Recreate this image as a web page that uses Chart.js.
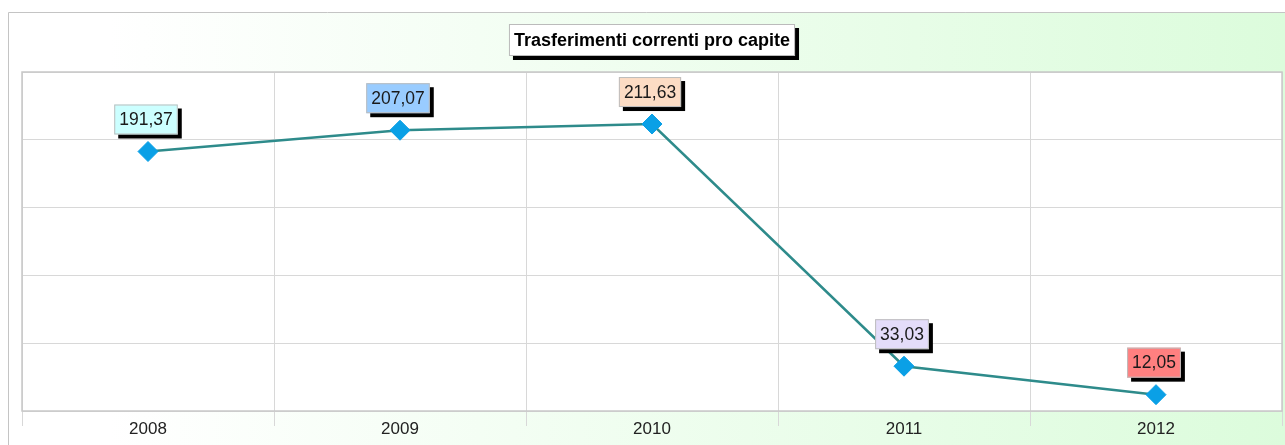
<!DOCTYPE html>
<html>
<head>
<meta charset="utf-8">
<script src="https://cdn.jsdelivr.net/npm/chart.js@4.4.0/dist/chart.umd.min.js"></script>
<style>
    html, body { margin: 0; padding: 0; background: #fff; overflow: hidden; }
    #wrap { width: 1285px; height: 445px; position: relative; }
    #wrap canvas { display: block; }
</style>
</head>
<body>
<div id="wrap"><canvas id="chart"></canvas></div>
<script>
const years = ['2008', '2009', '2010', '2011', '2012'];
const values = [191.37, 207.07, 211.63, 33.03, 12.05];
const labelColors = ['#ccffff', '#99ccff', '#fcdcc4', '#e4dcfa', '#ff8080'];
const chartTitle = 'Trasferimenti correnti pro capite';

const fmt = v => v.toFixed(2).replace('.', ',');
const FONT = 'Arial, "Liberation Sans", sans-serif';

// panel background: gradient frame + white plot area
const panelBg = {
    id: 'panelBg',
    beforeDraw(chart) {
        const { ctx, chartArea: a } = chart;
        ctx.save();
        const g = ctx.createLinearGradient(8, 0, 1285, 0);
        g.addColorStop(0, '#ffffff');
        g.addColorStop(0.08, '#ffffff');
        g.addColorStop(1, '#dcfcdc');
        ctx.fillStyle = g;
        ctx.fillRect(8, 12, 1285 - 8, 445 - 12);
        ctx.strokeStyle = '#c4c4c4';
        ctx.lineWidth = 1;
        ctx.beginPath();
        ctx.moveTo(8.5, 445);
        ctx.lineTo(8.5, 12.5);
        ctx.lineTo(1285, 12.5);
        ctx.stroke();
        ctx.fillStyle = '#ffffff';
        ctx.fillRect(a.left, a.top, a.right - a.left, a.bottom - a.top);
        ctx.restore();
    },
    afterDraw(chart) {
        const { ctx, chartArea: a } = chart;
        ctx.save();
        // plot frame
        ctx.strokeStyle = '#c8c8c8';
        ctx.lineWidth = 1.5;
        ctx.strokeRect(a.left, a.top, a.right - a.left, a.bottom - a.top);

        // title box
        ctx.font = 'bold 18px ' + FONT;
        const tw = ctx.measureText(chartTitle).width;
        const bw = tw + 10, bh = 32;
        const bx = (a.left + a.right) / 2 - bw / 2, by = 24;
        ctx.fillStyle = '#000';
        ctx.fillRect(bx + 4, by + 4, bw, bh);
        ctx.fillStyle = '#fff';
        ctx.fillRect(bx, by, bw, bh);
        ctx.strokeStyle = '#bbbbbb';
        ctx.lineWidth = 1;
        ctx.strokeRect(bx + 0.5, by + 0.5, bw - 1, bh - 1);
        ctx.fillStyle = '#000';
        ctx.textAlign = 'center';
        ctx.textBaseline = 'middle';
        ctx.fillText(chartTitle, bx + bw / 2, by + bh / 2 + 1);
        ctx.restore();
    }
};

// value labels in coloured boxes above each point
const valueBoxes = {
    id: 'valueBoxes',
    afterDatasetsDraw(chart) {
        const { ctx } = chart;
        const meta = chart.getDatasetMeta(0);
        ctx.save();
        ctx.font = '17.5px ' + FONT;
        ctx.textAlign = 'center';
        ctx.textBaseline = 'middle';
        meta.data.forEach((pt, i) => {
            const txt = fmt(values[i]);
            const w = ctx.measureText(txt).width + 10;
            const h = 30;
            const x = pt.x - w / 2 - 2;
            const y = pt.y - 17 - h;
            ctx.fillStyle = '#000';
            ctx.fillRect(x + 4, y + 4, w, h);
            ctx.fillStyle = labelColors[i];
            ctx.fillRect(x, y, w, h);
            ctx.strokeStyle = '#bdbdbd';
            ctx.lineWidth = 1;
            ctx.strokeRect(x + 0.5, y + 0.5, w - 1, h - 1);
            ctx.fillStyle = '#1a1a1a';
            ctx.fillText(txt, x + w / 2, y + h / 2 + 1);
        });
        ctx.restore();
    }
};

new Chart(document.getElementById('chart'), {
    type: 'line',
    data: {
        labels: years,
        datasets: [{
            data: values,
            borderColor: '#2e8b8b',
            borderWidth: 2.5,
            pointStyle: 'rectRot',
            pointRadius: 10,
            pointHoverRadius: 10,
            pointBackgroundColor: '#0aa0e6',
            pointBorderColor: '#0aa0e6',
            pointBorderWidth: 1,
            tension: 0,
            fill: false
        }]
    },
    options: {
        responsive: true,
        maintainAspectRatio: false,
        animation: false,
        layout: { autoPadding: false, padding: { left: 22, top: 72, right: 3, bottom: 0 } },
        plugins: {
            legend: { display: false },
            title: { display: false },
            tooltip: { enabled: false }
        },
        scales: {
            x: {
                offset: true,
                grid: { offset: true, color: '#d8d8d8', tickLength: 15, drawTicks: true },
                border: { display: false },
                ticks: {
                    color: '#222',
                    padding: -7,
                    font: { family: FONT, size: 17 }
                },
                afterFit: s => { s.height = 34; }
            },
            y: {
                min: 0,
                max: 250,
                ticks: { display: false, stepSize: 50 },
                grid: { color: '#d8d8d8', drawTicks: false },
                border: { display: false },
                afterFit: s => { s.width = 0; }
            }
        }
    },
    plugins: [panelBg, valueBoxes]
});
</script>
</body>
</html>
